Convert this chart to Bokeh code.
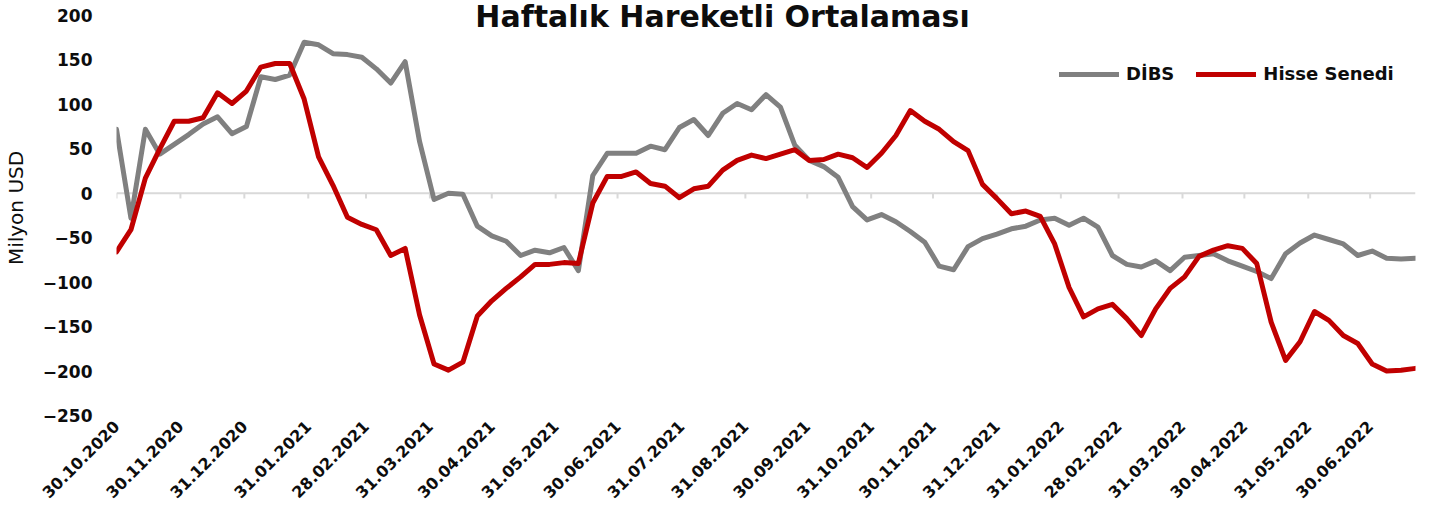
import pandas as pd
from math import pi
from bokeh.plotting import figure
from bokeh.models import (ColumnDataSource, Range1d, FixedTicker, DatetimeTickFormatter,
                          Span, Label, Legend, LegendItem)
from bokeh.embed import file_html
from bokeh.resources import INLINE

TITLE = "Haftalık Hareketli Ortalaması"
Y_LABEL = "Milyon USD"
SERIES_NAMES = ["DİBS", "Hisse Senedi"]
START = "2020-10-30"

DIBS = [72, -28, 72, 44, 55, 66, 78, 86, 67, 75,
        131, 128, 133, 170, 167, 157, 156, 153, 140, 124,
        148, 58, -7, 0, -1, -37, -48, -54, -70, -64,
        -67, -61, -87, 20, 45, 45, 45, 53, 49, 74,
        83, 65, 90, 101, 94, 111, 97, 54, 37, 30,
        18, -15, -30, -24, -32, -43, -55, -82, -86, -60,
        -51, -46, -40, -37, -30, -28, -36, -28, -38, -70,
        -80, -83, -76, -87, -72, -70, -68, -76, -82, -88,
        -96, -68, -56, -47, -52, -57, -70, -65, -73, -74,
        -73]

HISSE = [-66, -41, 17, 50, 81, 81, 85, 113, 101, 115,
         142, 146, 146, 106, 41, 9, -27, -35, -41, -70,
         -62, -137, -192, -199, -190, -138, -121, -107, -94, -80,
         -80, -78, -79, -11, 19, 19, 24, 11, 8, -5,
         5, 8, 26, 37, 43, 39, 44, 49, 37, 38,
         44, 40, 29, 45, 65, 93, 81, 72, 58, 48,
         10, -6, -23, -20, -26, -57, -106, -139, -130, -125,
         -141, -160, -130, -107, -94, -71, -64, -59, -62, -79,
         -145, -188, -167, -133, -143, -160, -169, -192, -200, -199,
         -197]

TICK_LABELS = ["30.10.2020", "30.11.2020", "31.12.2020", "31.01.2021", "28.02.2021",
               "31.03.2021", "30.04.2021", "31.05.2021", "30.06.2021", "31.07.2021",
               "31.08.2021", "30.09.2021", "31.10.2021", "30.11.2021", "31.12.2021",
               "31.01.2022", "28.02.2022", "31.03.2022", "30.04.2022", "31.05.2022",
               "30.06.2022"]
Y_TICKS = [-250, -200, -150, -100, -50, 0, 50, 100, 150, 200]

FONT = "DejaVu Sans"
TEXT_COLOR = "#0d0d0d"

# plot frame: 400 px for the -250..200 scale plus 15 px headroom for the title
PX_PER_UNIT = 400 / (Y_TICKS[-1] - Y_TICKS[0])
HEADROOM_PX = 15
y_top = Y_TICKS[-1] + HEADROOM_PX / PX_PER_UNIT

dates = pd.date_range(START, periods=len(DIBS), freq="7D")
src = ColumnDataSource(dict(date=dates, dibs=DIBS, hisse=HISSE))
tick_dates = pd.to_datetime(TICK_LABELS, format="%d.%m.%Y")
tick_ms = [int(t.value // 10**6) for t in tick_dates]

p = figure(frame_width=1299, frame_height=400 + HEADROOM_PX, x_axis_type="datetime",
           x_range=Range1d(dates[0], dates[-1]), y_range=Range1d(Y_TICKS[0], y_top),
           output_backend="svg", toolbar_location=None,
           min_border_left=114, min_border_right=2, min_border_top=0, min_border_bottom=10)
p.outline_line_color = None
p.grid.visible = False
p.background_fill_color = "white"
p.border_fill_color = "white"

# x axis (labels at the bottom)
xa = p.xaxis[0]
xa.ticker = FixedTicker(ticks=tick_ms)
fmt = "%d.%m.%Y"
xa.formatter = DatetimeTickFormatter(microseconds=fmt, milliseconds=fmt, seconds=fmt, minsec=fmt,
                                     minutes=fmt, hourmin=fmt, hours=fmt, days=fmt,
                                     months=fmt, years=fmt)
xa.major_label_overrides = {ms: lab for ms, lab in zip(tick_ms, TICK_LABELS)}
xa.major_label_orientation = pi / 4
xa.axis_line_color = None
xa.major_tick_line_color = None
xa.minor_tick_line_color = None
xa.major_tick_out = 0
xa.major_tick_in = 0
xa.major_label_standoff = 8
xa.major_label_text_font = FONT
xa.major_label_text_font_style = "bold"
xa.major_label_text_font_size = "16px"
xa.major_label_text_color = TEXT_COLOR

# y axis
ya = p.yaxis[0]
ya.ticker = FixedTicker(ticks=Y_TICKS)
ya.axis_line_color = None
ya.major_tick_line_color = None
ya.minor_tick_line_color = None
ya.major_tick_out = 0
ya.major_tick_in = 0
ya.major_label_standoff = 24
ya.major_label_text_font = FONT
ya.major_label_text_font_style = "bold"
ya.major_label_text_font_size = "17px"
ya.major_label_text_color = TEXT_COLOR
ya.axis_label = Y_LABEL
ya.axis_label_text_font = FONT
ya.axis_label_text_font_style = "normal"
ya.axis_label_text_font_size = "20px"
ya.axis_label_text_color = TEXT_COLOR
ya.axis_label_standoff = 12

# zero line with month ticks
p.add_layout(Span(location=0, dimension="width", line_color="#D9D9D9", line_width=2, level="underlay"))
p.segment(x0=tick_dates, y0=0, x1=tick_dates, y1=-6, line_color="#D9D9D9", line_width=2)

r1 = p.line("date", "dibs", source=src, line_color="#808080", line_width=5,
            line_join="round", line_cap="round")
r2 = p.line("date", "hisse", source=src, line_color="#C00000", line_width=5,
            line_join="round", line_cap="round")

legend = Legend(items=[LegendItem(label=SERIES_NAMES[0], renderers=[r1]),
                       LegendItem(label=SERIES_NAMES[1], renderers=[r2])],
                orientation="horizontal", location=(943, 331), padding=0, margin=0,
                spacing=22, glyph_width=60, glyph_height=20, label_standoff=7,
                label_text_font=FONT, label_text_font_style="bold",
                label_text_font_size="18px", label_text_color=TEXT_COLOR,
                border_line_alpha=0, background_fill_alpha=0)
p.add_layout(legend)

p.add_layout(Label(x=606, y=399, x_units="screen", y_units="screen", text=TITLE,
                   text_align="center", text_baseline="alphabetic", text_font=FONT,
                   text_font_style="bold", text_font_size="30px", text_color=TEXT_COLOR))

open("out.html", "w").write(file_html(p, INLINE))
